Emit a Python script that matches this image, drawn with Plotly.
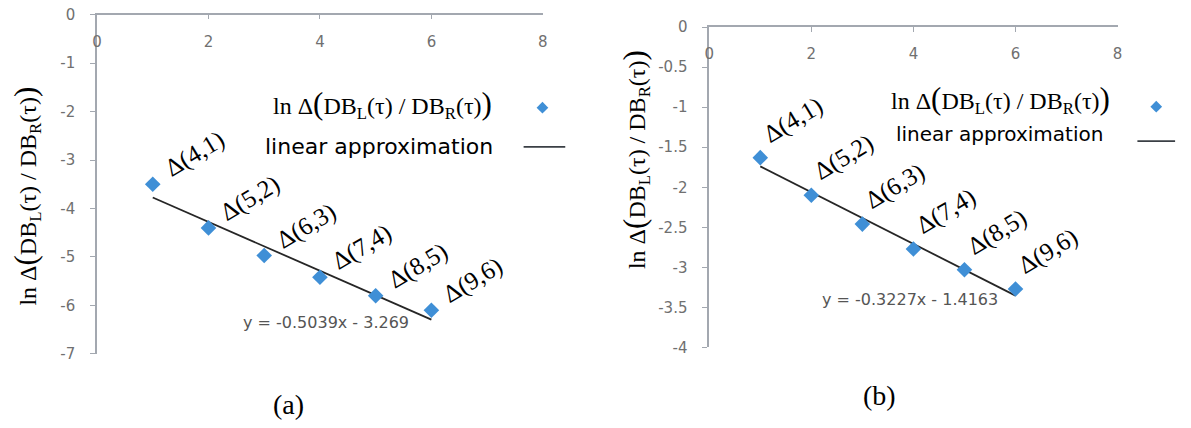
import plotly.graph_objects as go

W, H = 1191, 428

# x positions and measured log ratios for the two cases
x_vals = [1, 2, 3, 4, 5, 6]
point_labels = ["Δ(4,1)", "Δ(5,2)", "Δ(6,3)", "Δ(7,4)", "Δ(8,5)", "Δ(9,6)"]
y_a = [-3.50, -4.40, -4.97, -5.42, -5.80, -6.10]
y_b = [-1.63, -2.10, -2.46, -2.77, -3.03, -3.27]

# linear trend lines (slope, intercept)
fit_a = (-0.5039, -3.269)
fit_b = (-0.3227, -1.4163)
eq_a = "y = -0.5039x - 3.269"
eq_b = "y = -0.3227x - 1.4163"

x_ticks = [0, 2, 4, 6, 8]
y_ticks_a = [0, -1, -2, -3, -4, -5, -6, -7]
y_ticks_b = [0, -0.5, -1, -1.5, -2, -2.5, -3, -3.5, -4]

BLUE = "#3f8fd6"
LINE = "#262626"
AXIS = "#a3a8b0"
TICK = "#707070"
SERIF = "Liberation Serif, Times New Roman, serif"
SANS = "DejaVu Sans, Arial, sans-serif"

ytitle = ("ln Δ<span style='font-size:31px'>(</span>DB<sub>L</sub>(τ) / "
          "DB<sub>R</sub>(τ)<span style='font-size:31px'>)</span>")
legend_text = ytitle


def px(x, y):
    return x / W, 1 - y / H


def tick_text(vals):
    return [f"{v:g}" for v in vals]


fig = go.Figure()

panels = [
    dict(xa="x", ya="y", y=y_a, fit=fit_a),
    dict(xa="x2", ya="y2", y=y_b, fit=fit_b),
]
for p in panels:
    m, c = p["fit"]
    xs = [x_vals[0], x_vals[-1]]
    fig.add_trace(go.Scatter(x=xs, y=[m * v + c for v in xs], mode="lines",
                             line=dict(color=LINE, width=1.8),
                             xaxis=p["xa"], yaxis=p["ya"], hoverinfo="skip"))
    fig.add_trace(go.Scatter(x=x_vals, y=p["y"], mode="markers",
                             marker=dict(symbol="diamond", size=12, color=BLUE),
                             xaxis=p["xa"], yaxis=p["ya"], cliponaxis=False))

# legend glyphs, placed on a full-figure axis measured in pixels
for (mx, my), (lx0, lx1, ly) in [((542, 103), (523, 565, 144)),
                                 ((1161, 102), (1142, 1180, 138))]:
    fig.add_trace(go.Scatter(x=[mx], y=[my], mode="markers",
                             marker=dict(symbol="diamond", size=9, color=BLUE),
                             xaxis="x3", yaxis="y3", hoverinfo="skip"))
    fig.add_trace(go.Scatter(x=[lx0, lx1], y=[ly, ly], mode="lines",
                             line=dict(color="#3a3f45", width=1.8),
                             xaxis="x3", yaxis="y3", hoverinfo="skip"))

common_x = dict(range=[0, 8], tickvals=x_ticks, ticktext=tick_text(x_ticks),
                side="top", showline=True,
                linecolor=AXIS, linewidth=1.5, ticks="inside", ticklen=5,
                tickcolor=AXIS, showgrid=False, zeroline=False,
                ticklabelposition="inside", ticklabelstandoff=17,
                ticklabeloverflow="allow",
                tickfont=dict(family=SANS, size=15, color=TICK))
common_y = dict(showline=True, linecolor=AXIS, linewidth=1.5, ticks="outside",
                ticklen=5, tickcolor=AXIS, showgrid=False, zeroline=False,
                ticklabelstandoff=12,
                tickfont=dict(family=SANS, size=15, color=TICK))

fig.update_layout(
    width=W, height=H, margin=dict(l=0, r=0, t=0, b=0),
    paper_bgcolor="white", plot_bgcolor="rgba(0,0,0,0)", showlegend=False,
    xaxis=dict(domain=[92.8 / W, 542.4 / W], anchor="y", **common_x),
    yaxis=dict(domain=[1 - 360 / H, 1 - 6 / H], anchor="x", range=[-7, 0],
               tickvals=y_ticks_a, ticktext=tick_text(y_ticks_a), **common_y),
    xaxis2=dict(domain=[710.2 / W, 1122 / W], anchor="y2", **common_x),
    yaxis2=dict(domain=[1 - 353.3 / H, 1 - 18.9 / H], anchor="x2", range=[-4, 0],
                tickvals=y_ticks_b, ticktext=tick_text(y_ticks_b), **common_y),
    xaxis3=dict(domain=[0, 1], range=[0, W], visible=False, anchor="y3"),
    yaxis3=dict(domain=[0, 1], range=[H, 0], visible=False, anchor="x3"),
)

ann = []


def note(cx, cy, text, font, angle=0):
    x, y = px(cx, cy)
    ann.append(dict(x=x, y=y, xref="paper", yref="paper", text=text,
                    showarrow=False, xanchor="center", yanchor="middle",
                    textangle=angle, font=font))


# point labels, rotated
for p, (dx, dy) in zip(panels, [(42, 30), (33, 38)]):
    for xv, yv, lab in zip(x_vals, p["y"], point_labels):
        ann.append(dict(x=xv, y=yv, xref=p["xa"], yref=p["ya"], text=lab,
                        showarrow=False, textangle=-31, xshift=dx, yshift=dy,
                        xanchor="center", yanchor="middle",
                        font=dict(family=SERIF, size=25, color="black")))

# trend line equations
note(324, 327, eq_a, dict(family=SANS, size=16, color="#555555"))
note(913, 303, eq_b, dict(family=SANS, size=16, color="#555555"))

# axis titles
note(22, 195, ytitle, dict(family=SERIF, size=24, color="black"), angle=-90)
note(636, 157, ytitle, dict(family=SERIF, size=24, color="black"), angle=-90)

# legend labels
note(381, 100, legend_text, dict(family=SERIF, size=24, color="black"))
note(377, 144, "linear approximation", dict(family=SANS, size=22, color="black"))
note(1004, 94, legend_text, dict(family=SERIF, size=24, color="black"))
note(1003, 130, "linear approximation", dict(family=SANS, size=20, color="black"))

# panel captions
note(286, 413, "(a)", dict(family=SERIF, size=28, color="black"))
note(882, 403, "(b)", dict(family=SERIF, size=28, color="black"))

fig.update_layout(annotations=ann)
fig.write_html("out.html")
